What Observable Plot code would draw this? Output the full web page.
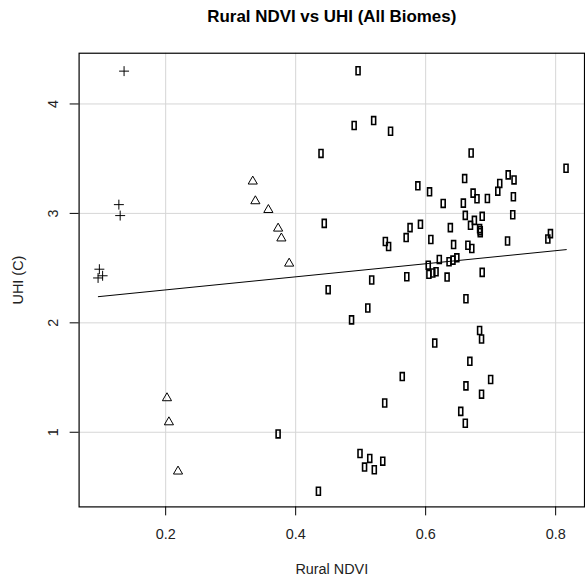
<!DOCTYPE html>
<html>
<head>
<meta charset="utf-8">
<script src="https://cdn.jsdelivr.net/npm/d3@7"></script>
<script src="https://cdn.jsdelivr.net/npm/@observablehq/plot@0.6"></script>
<style>
  html, body { margin: 0; padding: 0; background: #fff; overflow: hidden; }
  #chart { width: 585px; height: 584px; overflow: hidden; }
</style>
</head>
<body>
<div id="chart"></div>
<script>
const titleText = "Rural NDVI vs UHI (All Biomes)";
const xLabel = "Rural NDVI";
const yLabel = "UHI (C)";
const xTicks = [0.2, 0.4, 0.6, 0.8];
const yTicks = [1, 2, 3, 4];

// Group shown with "+" markers
const crossX = [0.136, 0.128, 0.130, 0.098, 0.103, 0.096];
const crossY = [4.30, 3.08, 2.98, 2.49, 2.43, 2.41];

// Group shown with open triangles
const triX = [0.334, 0.338, 0.358, 0.373, 0.378, 0.390, 0.202, 0.205, 0.219];
const triY = [3.30, 3.12, 3.04, 2.87, 2.78, 2.55, 1.32, 1.10, 0.65];

// Group shown with narrow rectangles
const rectX = [0.439, 0.444, 0.450, 0.496, 0.490, 0.520, 0.546, 0.670, 0.816, 0.660,
  0.727, 0.736, 0.714, 0.711, 0.588, 0.606, 0.673, 0.679, 0.695, 0.735,
  0.627, 0.658, 0.661, 0.687, 0.734, 0.675, 0.669, 0.683, 0.684, 0.684,
  0.576, 0.592, 0.638, 0.570, 0.608, 0.538, 0.543, 0.643, 0.665, 0.671,
  0.726, 0.788, 0.792, 0.604, 0.605, 0.611, 0.616, 0.621, 0.636, 0.642,
  0.648, 0.633, 0.687, 0.571, 0.517, 0.662, 0.511, 0.486, 0.683, 0.686,
  0.614, 0.668, 0.564, 0.700, 0.662, 0.686, 0.537, 0.654, 0.661, 0.499,
  0.514, 0.534, 0.506, 0.521, 0.435, 0.373];
const rectY = [3.548, 2.909, 2.303, 4.303, 3.803, 3.848, 3.751, 3.552, 3.412, 3.318,
  3.352, 3.306, 3.273, 3.203, 3.252, 3.197, 3.185, 3.134, 3.136, 3.152,
  3.091, 3.094, 2.982, 2.973, 2.988, 2.936, 2.891, 2.861, 2.842, 2.824,
  2.870, 2.900, 2.870, 2.779, 2.761, 2.743, 2.697, 2.715, 2.709, 2.679,
  2.748, 2.766, 2.815, 2.527, 2.443, 2.455, 2.467, 2.579, 2.558, 2.573,
  2.594, 2.418, 2.461, 2.421, 2.391, 2.220, 2.136, 2.027, 1.930, 1.852,
  1.815, 1.648, 1.509, 1.482, 1.424, 1.348, 1.267, 1.191, 1.082, 0.806,
  0.761, 0.736, 0.682, 0.657, 0.461, 0.985];

// Fitted line endpoints
const fitX = [0.0964, 0.8164];
const fitY = [2.239, 2.669];

const toPts = (xs, ys) => xs.map((x, i) => ({x, y: ys[i]}));
const crossPts = toPts(crossX, crossY);
const triPts = toPts(triX, triY);
const rectPts = toPts(rectX, rectY);
const fitPts = toPts(fitX, fitY);

const plusSymbol = {draw(ctx) { ctx.moveTo(-5, 0); ctx.lineTo(5, 0); ctx.moveTo(0, -5); ctx.lineTo(0, 5); }};
const triSymbol = {draw(ctx) { ctx.moveTo(0, -4.5); ctx.lineTo(4.6, 3.5); ctx.lineTo(-4.6, 3.5); ctx.closePath(); }};
const rectSymbol = {draw(ctx) { ctx.rect(-2, -4, 4, 8); }};

const font = "'Liberation Sans', Arial, Helvetica, sans-serif";

const chart = Plot.plot({
  width: 588,
  height: 584,
  marginLeft: 79,
  marginRight: 1,
  marginTop: 53,
  marginBottom: 75,
  style: {fontFamily: font, background: "#fff", color: "#000", overflow: "visible"},
  x: {domain: [0.0668, 0.8444], axis: null},
  y: {domain: [0.318, 4.4636], axis: null},
  marks: [
    Plot.gridX(xTicks, {stroke: "#d6d6d6", strokeOpacity: 1, strokeWidth: 1}),
    Plot.gridY(yTicks, {stroke: "#d6d6d6", strokeOpacity: 1, strokeWidth: 1}),
    Plot.frame({stroke: "#000", strokeWidth: 1.2}),
    Plot.axisX(xTicks, {tickSize: 9, fill: "none", label: null, tickFormat: () => "", strokeWidth: 1}),
    Plot.axisY(yTicks, {tickSize: 9, fill: "none", label: null, tickFormat: () => "", strokeWidth: 1}),
    Plot.text(xTicks, {x: d => d, frameAnchor: "bottom", dy: 28, text: d => String(d), fontSize: 14.5, lineAnchor: "middle", fill: "#222"}),
    Plot.text(yTicks, {y: d => d, frameAnchor: "left", dx: -26, text: d => String(d), fontSize: 14.5, rotate: -90, lineAnchor: "middle", textAnchor: "middle", fill: "#222"}),
    Plot.text([xLabel], {frameAnchor: "bottom", dy: 63, fontSize: 14.5, lineAnchor: "middle", fill: "#222"}),
    Plot.text([yLabel], {frameAnchor: "left", dx: -61, fontSize: 14.5, rotate: -90, lineAnchor: "middle", textAnchor: "middle", fill: "#222"}),
    Plot.text([titleText], {frameAnchor: "top", dy: -37, fontSize: 17, fontWeight: "bold", lineAnchor: "middle", fill: "#000"}),
    Plot.line(fitPts, {x: "x", y: "y", stroke: "#000", strokeWidth: 1}),
    Plot.dot(crossPts, {x: "x", y: "y", symbol: plusSymbol, r: 5, stroke: "#000", fill: "none", strokeWidth: 1}),
    Plot.dot(triPts, {x: "x", y: "y", symbol: triSymbol, r: 5, stroke: "#000", fill: "none", strokeWidth: 1}),
    Plot.dot(rectPts, {x: "x", y: "y", symbol: rectSymbol, r: 4, stroke: "#000", fill: "none", strokeWidth: 1.6})
  ]
});
document.getElementById("chart").appendChild(chart);
</script>
</body>
</html>
